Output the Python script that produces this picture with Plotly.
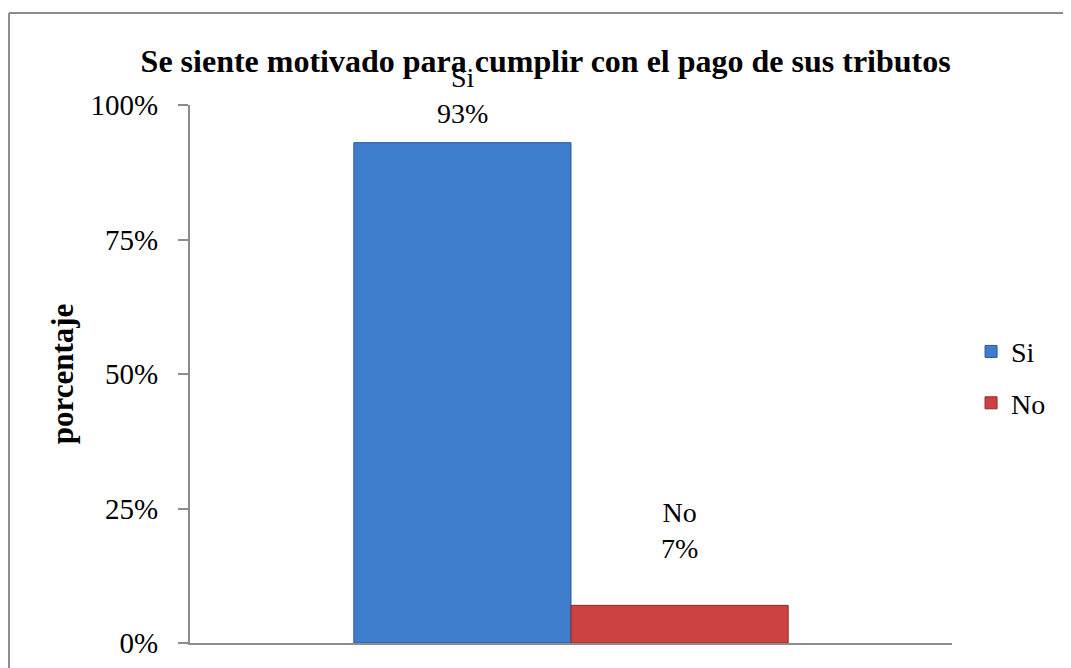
import plotly.graph_objects as go

categories = ["Se siente motivado para cumplir con el pago de sus tributos"]
series_names = ["Si", "No"]
series_values = [[0.93], [0.07]]
label_lift_px = [12, 39]
series_colors = ["#3E7CCC", "#CB4240"]
line_colors = ["#2B5A96", "#8E2B2A"]
y_ticks = [0, 0.25, 0.5, 0.75, 1.0]
y_tick_labels = ["0%", "25%", "50%", "75%", "100%"]

FONT = "Liberation Serif"
W, H = 1071, 668
M = dict(l=182, r=127, t=97, b=33)
BARGAP = 0.43

fig = go.Figure()
for i, (name, vals) in enumerate(zip(series_names, series_values)):
    fig.add_trace(go.Bar(
        x=categories, y=vals, name=name,
        marker=dict(color=series_colors[i], line=dict(color=line_colors[i], width=1)),
        legendgroup=name,
    ))

# data labels centred over each bar of the group
plot_w = W - M["l"] - M["r"]
bar_w = plot_w * (1 - BARGAP) / len(series_names)
n = len(series_names)
for i, (name, vals) in enumerate(zip(series_names, series_values)):
    offset = (i - (n - 1) / 2) * bar_w
    for cat, v in zip(categories, vals):
        fig.add_annotation(x=cat, y=v, xref="x", yref="y",
                           text=f"{name}<br>{v:.0%}", showarrow=False,
                           xanchor="center", yanchor="bottom",
                           xshift=offset, yshift=label_lift_px[i],
                           font=dict(family=FONT, size=28, color="black"))

fig.update_layout(
    width=W, height=H,
    margin=M,
    paper_bgcolor="white", plot_bgcolor="white",
    barmode="group", bargap=BARGAP, bargroupgap=0,
    font=dict(family=FONT, size=28, color="black"),
    title=dict(text="<b>Se siente motivado para cumplir con el pago de sus tributos</b>",
               x=0.502, xanchor="center", y=0.921, yanchor="middle",
               font=dict(family=FONT, size=32, color="black")),
    showlegend=True,
    legend=dict(x=1.025, xanchor="left", y=0.494, yanchor="middle",
                font=dict(family=FONT, size=28), tracegroupgap=12,
                itemwidth=30, bgcolor="rgba(0,0,0,0)"),
    shapes=[
        dict(type="line", xref="paper", yref="paper", x0=-0.2375, x1=1.2, y0=1.171, y1=1.171,
             line=dict(color="#8C8C8C", width=2)),
        dict(type="line", xref="paper", yref="paper", x0=-0.2375, x1=-0.2375, y0=1.171, y1=-0.1,
             line=dict(color="#8C8C8C", width=2)),
    ],
)
fig.update_xaxes(showticklabels=False, showline=True, linecolor="#8C8C8C", linewidth=2,
                 ticks="", showgrid=False, zeroline=False)
fig.update_yaxes(range=[0, 1], tickvals=y_ticks, ticktext=y_tick_labels,
                 showline=True, linecolor="#8C8C8C", linewidth=2,
                 ticks="outside", ticklen=10, tickcolor="#8C8C8C", tickwidth=2,
                 ticklabelstandoff=14, showgrid=False, zeroline=False,
                 tickfont=dict(family=FONT, size=29),
                 title=dict(text="<b>porcentaje</b>", standoff=8,
                            font=dict(family=FONT, size=31)))

fig.write_html("out.html")
